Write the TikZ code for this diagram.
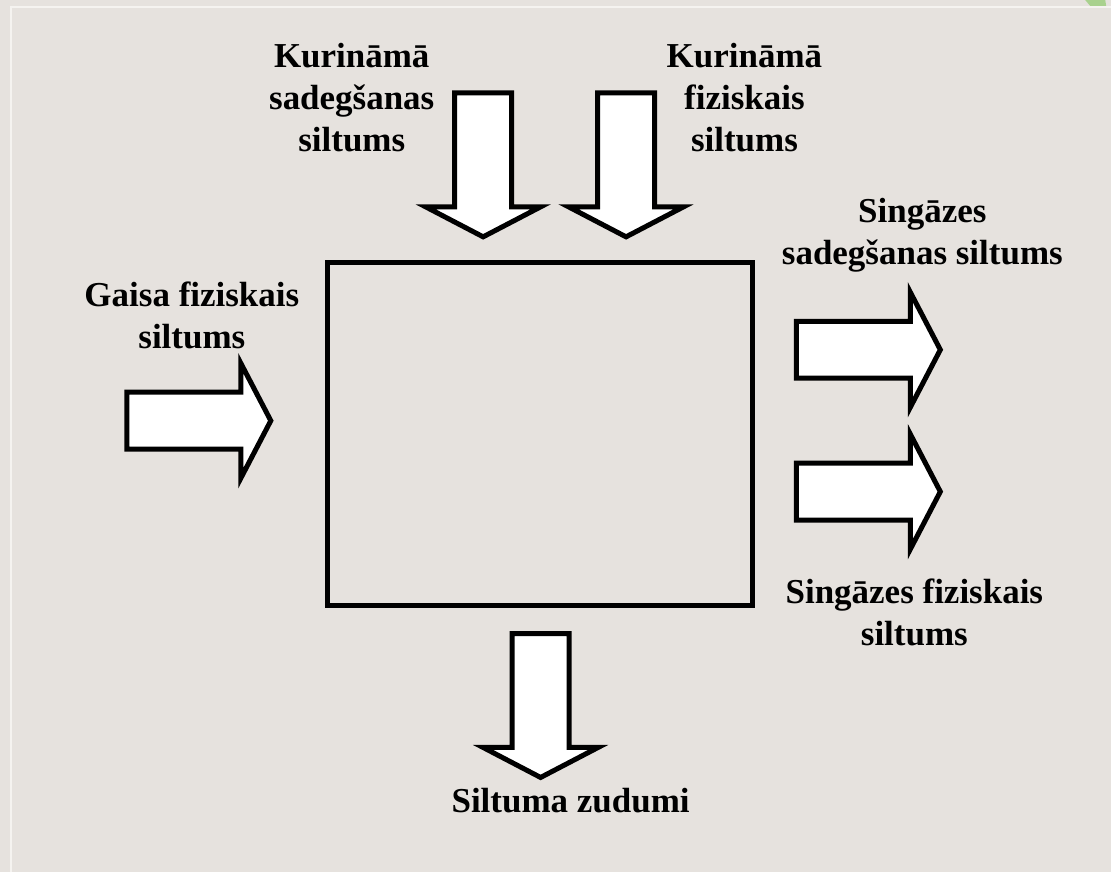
\documentclass[tikz,border=0pt]{standalone}
\usepackage{fontspec}
\setmainfont{Liberation Serif}

\definecolor{paper}{RGB}{230,226,222}
\definecolor{rim}{RGB}{245,243,240}
\definecolor{leaf}{RGB}{169,209,142}

\begin{document}
\begin{tikzpicture}[x=0.5pt,y=-0.5pt,
    txt/.style={align=center,anchor=base,inner sep=0pt,
                font=\fontsize{17.5}{21}\selectfont\bfseries},
    flow/.style={draw,line width=2.5pt,line join=miter},
    blockarrow/.pic={
      \draw[flow,fill=white] (0,-28.5) -- (114,-28.5) -- (114,-57.5) -- (144,0)
        -- (114,57.5) -- (114,28.5) -- (0,28.5) -- cycle;}]
  % page
  \fill[paper] (0,0) rectangle (1112,873);
  \draw[rim,line width=0.8pt] (11,873) -- (11,7) -- (1112,7);
  \fill[leaf] (1086,0) -- (1106,0) -- (1107,6) -- (1091,6) -- cycle;

  % gasifier
  \node[flow,minimum width=212.5pt,minimum height=171.5pt,inner sep=0pt]
        (reactor) at (540.5,434.5) {};

  % heat in
  \pic[rotate=-90] (fuelchem) at (483.5,93) {blockarrow};
  \pic[rotate=-90] (fuelphys) at (626.5,93) {blockarrow};
  \pic (air) at (127,421) {blockarrow};
  % heat out
  \pic (gaschem) at (797,350) {blockarrow};
  \pic (gasphys) at (797,492) {blockarrow};
  \pic[rotate=-90] (loss) at (541,634) {blockarrow};

  % labels sit on the baseline of their last line
  \node[txt] (fuelchemlbl) at (352,152) {Kurināmā\\sadegšanas\\siltums};
  \node[txt] (fuelphyslbl) at (745,152) {Kurināmā\\fiziskais\\siltums};
  \node[txt] (airlbl) at (192,349) {Gaisa fiziskais\\siltums};
  \node[txt] (gaschemlbl) at (923,265) {Singāzes\\sadegšanas siltums};
  \node[txt] (gasphyslbl) at (915,646) {Singāzes fiziskais\\siltums};
  \node[txt] (losslbl) at (571,813) {Siltuma zudumi};
\end{tikzpicture}
\end{document}
